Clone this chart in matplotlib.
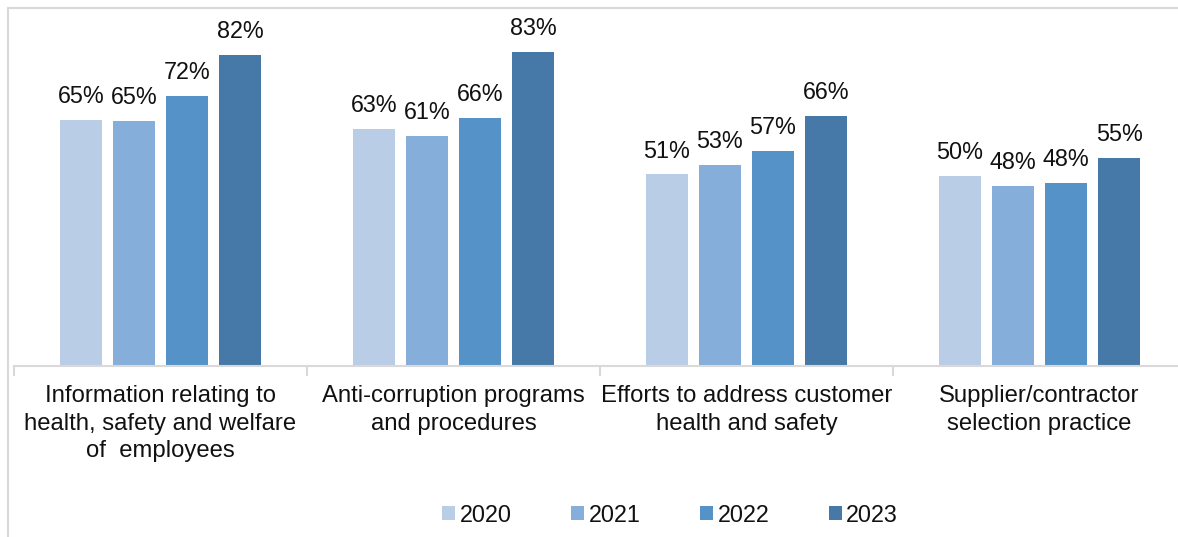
import matplotlib
matplotlib.use("Agg")
import matplotlib.pyplot as plt
import matplotlib.patches as mpatches
import numpy as np

plt.rcParams['font.family'] = ['Liberation Sans', 'DejaVu Sans']

categories = [
    "Information relating to\nhealth, safety and welfare\nof  employees",
    "Anti-corruption programs\nand procedures",
    "Efforts to address customer\nhealth and safety",
    "Supplier/contractor\nselection practice",
]
years = ["2020", "2021", "2022", "2023"]
v2020 = [65.3, 62.8, 50.8, 50.3]
v2021 = [64.9, 60.9, 53.2, 47.8]
v2022 = [71.6, 65.7, 57.1, 48.5]
v2023 = [82.4, 83.4, 66.4, 55.2]
series = [v2020, v2021, v2022, v2023]
colors = ["#B9CDE6", "#85AEDB", "#5592C8", "#4679A8"]

W, H = 1178, 537
fig = plt.figure(figsize=(W / 100, H / 100), dpi=100)

# outer frame
fig.patches.append(mpatches.Rectangle((8 / W, -0.2), 1.2, 1 - 7.5 / H + 0.2,
                                      transform=fig.transFigure, fill=False,
                                      edgecolor="#D9D9D9", linewidth=1.5))

left, right = 14 / W, 1186 / W
bottom = 1 - 366 / H
ymax = 90
top_px = 366 - ymax * 3.77
ax = fig.add_axes([left, bottom, right - left, (366 - top_px) / H])

x = np.arange(len(categories))
step = 0.181
width = 0.143
for i, (vals, c) in enumerate(zip(series, colors)):
    pos = x + (i - 1.5) * step
    bars = ax.bar(pos, vals, width=width, color=c, label=years[i], zorder=2)
    for b, v in zip(bars, vals):
        ax.annotate(f"{v:.0f}%", (b.get_x() + b.get_width() / 2, v),
                    xytext=(0, 12.2), textcoords="offset points",
                    ha="center", va="baseline", fontsize=16.8, color="#111111")

ax.set_xlim(-0.5, 3.5)
ax.set_ylim(0, ymax)
for s in ["top", "right", "left"]:
    ax.spines[s].set_visible(False)
ax.spines["bottom"].set_color("#D9D9D9")
ax.spines["bottom"].set_linewidth(1.5)
ax.set_yticks([])
ax.set_xticks(np.arange(-0.5, 4.0, 1.0))
ax.set_xticklabels([])
ax.tick_params(axis="x", which="major", length=7, width=1.5, color="#D9D9D9")
ax.set_xticks(x, minor=True)
ax.set_xticklabels(categories, minor=True, fontsize=17.2, color="#111111",
                   linespacing=1.31)
ax.tick_params(axis="x", which="minor", length=0, pad=14)

fig.legend(loc="center", bbox_to_anchor=(670 / W, 1 - 515 / H), ncol=4,
           frameon=False, fontsize=16.8, handlelength=0.55, handleheight=0.55,
           handletextpad=0.2, columnspacing=2.55, labelcolor="#111111")

fig.savefig("out.png", dpi=100)
